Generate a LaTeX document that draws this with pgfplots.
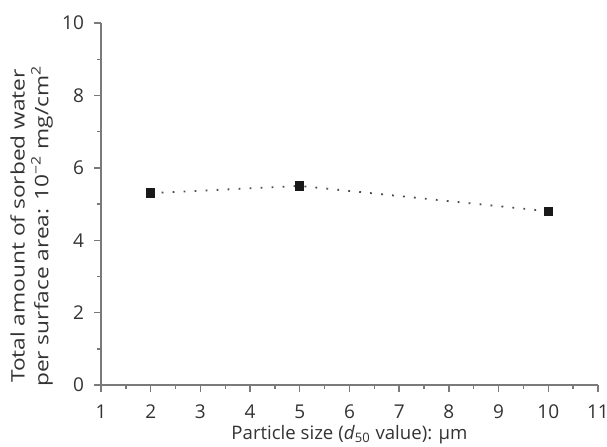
\documentclass[border=0pt]{standalone}
\usepackage{fontspec}
\setmainfont{Open Sans}
\usepackage{graphicx}
\usepackage{pgfplots}
\pgfplotsset{compat=1.18}
\definecolor{axgray}{HTML}{7A7A7A}
\begin{document}
\begin{tikzpicture}
\begin{axis}[
  name=ax,
  scale only axis,
  width=248.5pt, height=181pt,
  xmin=1, xmax=11, ymin=0, ymax=10,
  axis x line=bottom, axis y line=left,
  axis line style={-, axgray, line width=0.9pt},
  xtick={1,...,11}, ytick={0,2,...,10},
  minor x tick num=1, minor y tick num=1,
  tick align=outside,
  major tick length=3.5pt, minor tick length=2pt,
  tick style={axgray, line width=0.7pt},
  every tick label/.style={font=\fontsize{9.5}{10}\selectfont, text=black!80},
  /pgf/number format/assume math mode=true,
  xticklabel style={yshift=-3pt},
  yticklabel style={xshift=-1.5pt},
  xlabel={Particle size (\textit{d}\textsubscript{50} value): µm},
  ylabel={\scalebox{1.22}[1]{\begin{tabular}{@{}c@{}}Total amount of sorbed water\\per surface area: 10\textsuperscript{−2} mg/cm\textsuperscript{2}\end{tabular}}},
  label style={font=\fontsize{9.3}{11}\selectfont, text=black!80},
  xlabel style={at={(rel axis cs:0.5,0)}, anchor=base, yshift=-27.3pt},
  ylabel style={at={(rel axis cs:-0.1388,0.4392)}, anchor=center},
  clip=false,
]
\addplot[gray!60!black, line width=0.9pt, dash pattern=on 0.9pt off 4.6pt,
  mark=square*, mark size=1.9pt, mark options={solid, fill=black!90, draw=black!90}]
  coordinates {(2,5.3) (5,5.5) (10,4.8)};
\end{axis}
\pgfresetboundingbox
\path ([shift={(-50.5pt,-30.5pt)}]ax.south west) rectangle ([shift={(4.5pt,11.5pt)}]ax.north east);
\end{tikzpicture}
\end{document}
